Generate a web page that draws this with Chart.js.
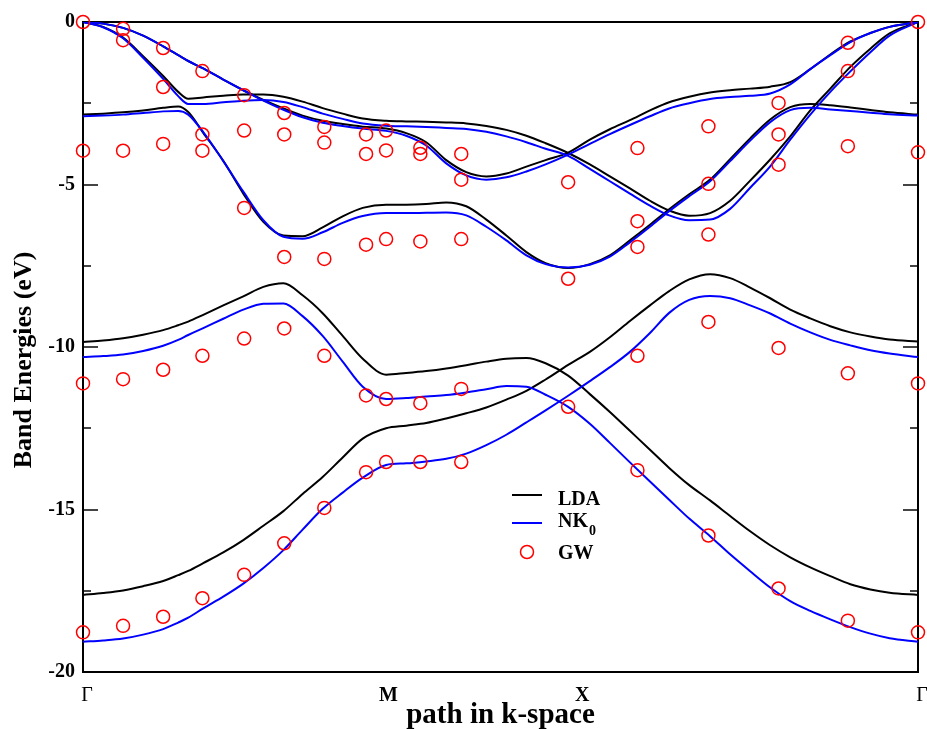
<!DOCTYPE html>
<html>
<head>
<meta charset="utf-8">
<script src="https://cdn.jsdelivr.net/npm/chart.js@4.4.0/dist/chart.umd.min.js"></script>
<style>
  html, body { margin: 0; padding: 0; background: #fff; }
</style>
</head>
<body>
<canvas id="bandas" width="927" height="729"></canvas>
<script>
// caminho no espaço k: Γ = 0, M = 0.363, X = 0.581, Γ = 1
const kPath = [0, 0.024, 0.048, 0.072, 0.096, 0.114, 0.126, 0.144, 0.168, 0.192, 0.216, 0.240, 0.263, 0.287, 0.311, 0.335, 0.363,
  0.387, 0.411, 0.435, 0.459, 0.483, 0.507, 0.531, 0.554, 0.581,
  0.607, 0.631, 0.655, 0.679, 0.702, 0.726, 0.751, 0.775, 0.799, 0.823, 0.847, 0.871, 0.895, 0.919, 0.943, 0.966, 1]

const kLabels = ['Γ', 'M', 'X', 'Γ']
const kLabelAt = [0, 0.361, 0.593, 1]

const yTicks = [0, -5, -10, -15, -20]

// LDA (preto)
const ldaS = [0, -0.05, -0.18, -0.42, -0.75, -1.02, -1.20, -1.43, -1.77, -2.10, -2.40, -2.66, -2.88, -3.04, -3.14, -3.22, -3.28,
  -3.42, -3.70, -4.25, -4.62, -4.75, -4.66, -4.45, -4.25, -4.02,
  -3.62, -3.30, -3.02, -2.72, -2.47, -2.30, -2.17, -2.10, -2.05, -1.99, -1.85, -1.45, -1.00, -0.60, -0.34, -0.15, 0]
const ldaB = [0, -0.15, -0.48, -1.05, -1.66, -2.15, -2.36, -2.32, -2.27, -2.23, -2.23, -2.30, -2.45, -2.65, -2.82, -2.97, -3.04,
  -3.06, -3.07, -3.09, -3.12, -3.20, -3.32, -3.50, -3.73, -4.03,
  -4.38, -4.75, -5.12, -5.50, -5.80, -5.96, -5.88, -5.50, -4.88, -4.23, -3.52, -2.72, -2.05, -1.38, -0.82, -0.35, 0]
const ldaC = [-2.85, -2.82, -2.78, -2.72, -2.64, -2.60, -2.77, -3.41, -4.27, -5.28, -6.15, -6.57, -6.59, -6.32, -5.98, -5.72, -5.62,
  -5.62, -5.60, -5.55, -5.67, -6.08, -6.57, -7.08, -7.42, -7.57,
  -7.45, -7.18, -6.72, -6.24, -5.76, -5.30, -4.85, -4.22, -3.58, -3.00, -2.62, -2.52, -2.56, -2.63, -2.71, -2.78, -2.85]
const ldaL2 = [-9.85, -9.80, -9.73, -9.62, -9.48, -9.33, -9.22, -9.01, -8.72, -8.44, -8.15, -8.04, -8.41, -8.96, -9.66, -10.36, -10.85,
  -10.80, -10.74, -10.66, -10.56, -10.45, -10.36, -10.34, -10.50, -10.88,
  -11.45, -12.00, -12.58, -13.16, -13.72, -14.25, -14.72, -15.20, -15.67, -16.10, -16.47, -16.78, -17.05, -17.30, -17.46, -17.56, -17.63]
const ldaL1 = [-17.63, -17.57, -17.49, -17.36, -17.20, -17.02, -16.89, -16.65, -16.32, -15.94, -15.50, -15.05, -14.52, -14.00, -13.40, -12.82, -12.50,
  -12.42, -12.34, -12.20, -12.04, -11.86, -11.62, -11.35, -11.00, -10.55,
  -10.15, -9.70, -9.20, -8.72, -8.28, -7.92, -7.76, -7.88, -8.17, -8.50, -8.85, -9.12, -9.36, -9.55, -9.68, -9.77, -9.83]

// NK0 (azul)
const nkS = [0, -0.05, -0.18, -0.42, -0.75, -1.02, -1.20, -1.43, -1.77, -2.10, -2.42, -2.70, -2.93, -3.10, -3.20, -3.28, -3.35,
  -3.50, -3.80, -4.35, -4.72, -4.85, -4.78, -4.60, -4.38, -4.08,
  -3.75, -3.45, -3.17, -2.90, -2.66, -2.50, -2.37, -2.31, -2.27, -2.20, -1.92, -1.45, -1.02, -0.62, -0.34, -0.15, 0]
const nkB = [0, -0.16, -0.50, -1.10, -1.75, -2.28, -2.52, -2.52, -2.47, -2.42, -2.40, -2.46, -2.62, -2.82, -2.98, -3.12, -3.19,
  -3.21, -3.23, -3.26, -3.29, -3.38, -3.52, -3.70, -3.90, -4.12,
  -4.52, -4.90, -5.28, -5.65, -5.95, -6.10, -6.08, -5.75, -5.10, -4.44, -3.62, -2.85, -2.15, -1.52, -0.93, -0.42, 0]
const nkC = [-2.90, -2.88, -2.85, -2.80, -2.75, -2.74, -2.85, -3.39, -4.28, -5.22, -6.10, -6.61, -6.67, -6.47, -6.18, -5.97, -5.88,
  -5.88, -5.87, -5.86, -5.95, -6.30, -6.72, -7.18, -7.45, -7.55,
  -7.47, -7.22, -6.78, -6.30, -5.82, -5.36, -4.90, -4.28, -3.65, -3.08, -2.71, -2.64, -2.69, -2.74, -2.79, -2.84, -2.88]
const nkL2 = [-10.31, -10.28, -10.23, -10.12, -9.96, -9.78, -9.63, -9.42, -9.13, -8.85, -8.67, -8.66, -9.05, -9.66, -10.45, -11.22, -11.60,
  -11.57, -11.52, -11.48, -11.40, -11.30, -11.20, -11.22, -11.47, -11.84,
  -12.36, -12.95, -13.55, -14.14, -14.70, -15.28, -15.82, -16.38, -16.90, -17.40, -17.82, -18.12, -18.38, -18.62, -18.82, -18.96, -19.07]
const nkL1 = [-19.07, -19.03, -18.97, -18.85, -18.68, -18.48, -18.33, -18.04, -17.68, -17.28, -16.80, -16.25, -15.62, -14.98, -14.48, -14.02, -13.63,
  -13.58, -13.52, -13.44, -13.28, -13.02, -12.70, -12.32, -11.95, -11.50,
  -11.05, -10.62, -10.15, -9.57, -8.95, -8.55, -8.43, -8.50, -8.72, -8.97, -9.28, -9.55, -9.78, -9.95, -10.10, -10.20, -10.31]

// GW (círculos vermelhos), uma coluna por ponto k
const gwK = [0, 0.048, 0.096, 0.143, 0.193, 0.241, 0.289, 0.339, 0.363, 0.404, 0.453, 0.581, 0.664, 0.749, 0.833, 0.916, 1]
const gwE = [
  [0, -3.96, -11.12, -18.78],
  [-0.21, -0.56, -3.96, -10.99, -18.58],
  [-0.80, -2.00, -3.75, -10.70, -18.30],
  [-1.51, -3.46, -3.96, -10.27, -17.73],
  [-2.25, -3.34, -5.72, -9.74, -17.01],
  [-2.80, -3.46, -7.23, -9.43, -16.04],
  [-3.23, -3.71, -7.29, -10.27, -14.95],
  [-3.46, -4.06, -6.85, -11.49, -13.85],
  [-3.34, -3.95, -6.68, -11.60, -13.54],
  [-3.87, -4.06, -6.75, -11.73, -13.54],
  [-4.06, -4.85, -6.68, -11.29, -13.54],
  [-4.93, -7.90, -11.84],
  [-3.88, -6.13, -6.92, -10.27, -13.79],
  [-3.21, -4.98, -6.54, -9.23, -15.80],
  [-2.49, -3.46, -4.39, -10.03, -17.43],
  [-0.64, -1.51, -3.82, -10.81, -18.42],
  [0, -4.01, -11.12, -18.78]
]

const serif = "'Liberation Serif', 'Times New Roman', serif"
const PRETO = '#000000'
const AZUL = '#0000ff'
const VERMELHO = '#ff0000'

function linhaBanda(vals, cor, ordem) {
  return {
    data: kPath.map((k, i) => ({ x: k, y: vals[i] })),
    showLine: true,
    borderColor: cor,
    borderWidth: 2,
    pointRadius: 0,
    cubicInterpolationMode: 'monotone',
    order: ordem
  }
}

const pontosGW = []
gwK.forEach((k, i) => gwE[i].forEach(e => pontosGW.push({ x: k, y: e })))

const datasets = [
  ...[ldaL1, ldaL2, ldaC, ldaB, ldaS].map(b => linhaBanda(b, PRETO, 3)),
  ...[nkL1, nkL2, nkC, nkB, nkS].map(b => linhaBanda(b, AZUL, 2)),
  {
    data: pontosGW,
    showLine: false,
    pointStyle: 'circle',
    pointRadius: 6.5,
    pointBorderWidth: 1.5,
    pointBorderColor: VERMELHO,
    pointBackgroundColor: 'rgba(0,0,0,0)',
    clip: false,
    order: 1
  }
]

// ticks para dentro, dos dois lados, e moldura
const moldura = {
  id: 'moldura',
  beforeDatasetsDraw(chart) {
    const { ctx, chartArea: a, scales: { y } } = chart
    ctx.save()
    ctx.strokeStyle = '#444'
    ctx.lineWidth = 2
    y.ticks.forEach(t => {
      const py = Math.round(y.getPixelForValue(t.value))
      const len = yTicks.includes(t.value) ? 15 : 8
      ctx.beginPath()
      ctx.moveTo(a.left, py); ctx.lineTo(a.left + len, py)
      ctx.moveTo(a.right, py); ctx.lineTo(a.right - len, py)
      ctx.stroke()
    })
    ctx.strokeStyle = PRETO
    ctx.strokeRect(a.left, a.top, a.right - a.left, a.bottom - a.top)
    ctx.restore()
  }
}

// legenda desenhada à mão por causa do subscrito em NK0
const legenda = {
  id: 'legenda',
  afterDraw(chart) {
    const { ctx, chartArea: a } = chart
    const x0 = a.left + 429
    const y0 = a.top + 473
    const xt = a.left + 475
    ctx.save()
    ctx.lineWidth = 2
    ctx.font = `bold 20px ${serif}`
    ctx.fillStyle = PRETO
    ctx.textBaseline = 'alphabetic'

    ctx.strokeStyle = PRETO
    ctx.beginPath(); ctx.moveTo(x0, y0); ctx.lineTo(x0 + 30, y0); ctx.stroke()
    ctx.fillText('LDA', xt, y0 + 10)

    const y1 = y0 + 28
    ctx.strokeStyle = AZUL
    ctx.beginPath(); ctx.moveTo(x0, y1); ctx.lineTo(x0 + 30, y1); ctx.stroke()
    ctx.fillText('NK', xt, y1 + 4)
    const wNK = ctx.measureText('NK').width
    ctx.font = `bold 14px ${serif}`
    ctx.fillText('0', xt + wNK + 1, y1 + 12)

    const y2 = y0 + 57
    ctx.strokeStyle = VERMELHO
    ctx.lineWidth = 1.5
    ctx.beginPath(); ctx.arc(x0 + 15, y2, 6.5, 0, Math.PI * 2); ctx.stroke()
    ctx.font = `bold 20px ${serif}`
    ctx.fillText('GW', xt, y2 + 6.5)
    ctx.restore()
  }
}

new Chart(document.getElementById('bandas'), {
  type: 'scatter',
  data: { datasets },
  plugins: [moldura, legenda],
  options: {
    responsive: false,
    animation: false,
    devicePixelRatio: 1,
    layout: { padding: { top: 22, right: 9, left: 0, bottom: 0 } },
    plugins: { legend: { display: false }, tooltip: { enabled: false } },
    scales: {
      x: {
        type: 'linear',
        min: 0,
        max: 1,
        afterBuildTicks: s => { s.ticks = kLabelAt.map(v => ({ value: v })) },
        afterFit: s => { s.height = 57; s.paddingLeft = 0; s.paddingRight = 0 },
        grid: { display: false, drawTicks: false },
        border: { display: false },
        ticks: {
          autoSkip: false,
          maxRotation: 0,
          padding: 12,
          labelOffset: 4,
          color: PRETO,
          font: c => ({ family: serif, size: 20, weight: kLabels[c.index] === 'Γ' ? 'normal' : 'bold' }),
          callback: (v, i) => kLabels[i]
        },
        title: {
          display: true,
          text: 'path in k-space',
          color: PRETO,
          font: { family: serif, size: 29, weight: 'bold' },
          padding: { top: 0, bottom: -4 }
        }
      },
      y: {
        min: -20,
        max: 0,
        afterFit: s => { s.width = 83; s.paddingTop = 0; s.paddingBottom = 0 },
        grid: { display: false, drawTicks: false },
        border: { display: false },
        ticks: {
          stepSize: 2.5,
          padding: 8,
          color: PRETO,
          font: { family: serif, size: 20, weight: 'bold' },
          callback: v => yTicks.includes(v) ? String(v) : ''
        },
        title: {
          display: true,
          // espaços no fim empurram o texto para baixo, como no original
          text: 'Band Energies (eV)\u00a0\u00a0\u00a0\u00a0',
          color: PRETO,
          font: { family: serif, size: 26, weight: 'bold' },
          padding: { top: 9, bottom: 0 }
        }
      }
    }
  }
})
</script>
</body>
</html>
